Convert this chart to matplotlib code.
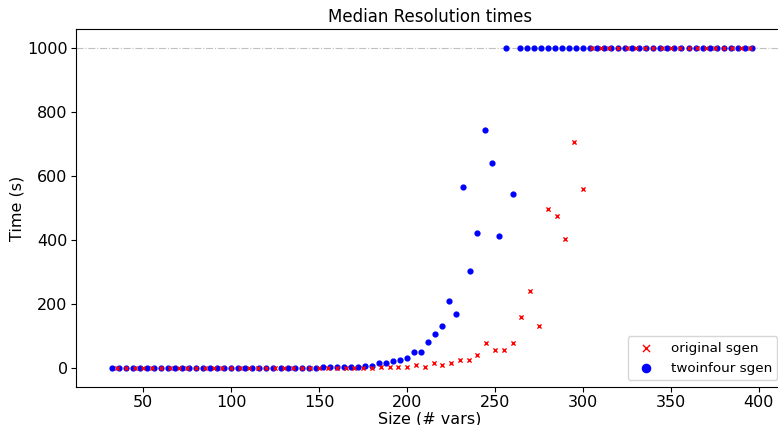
import matplotlib
matplotlib.use("Agg")
import matplotlib.pyplot as plt

# sizes (# vars)
sizes_orig = list(range(35, 396, 5))
sizes_two = list(range(32, 397, 4))

# median times (s); 1000 = timeout
times_orig = [0.5, 0.5, 0.5, 0.5, 0.5, 0.5, 0.5, 0.5, 0.5,        # 35-75
              0.5, 0.5, 0.5, 0.5, 0.5, 0.5, 0.5, 0.5, 0.5, 0.5,   # 80-125
              0.5, 0.5, 0.5, 0.5, 0.5, 1, 1, 1.5, 2, 2,          # 130-175
              2, 3, 3, 3, 5, 9, 5, 15, 9, 15,                     # 180-225
              24, 24, 41, 80, 58, 58, 78, 160, 241, 133,          # 230-275
              497, 476, 403, 708, 560,                            # 280-300
              1000, 1000, 1000, 1000, 1000, 1000, 1000, 1000, 1000, 1000,
              1000, 1000, 1000, 1000, 1000, 1000, 1000, 1000, 1000]  # 305-395
times_two = [0.5, 0.5, 0.5, 0.5, 0.5, 0.5, 0.5, 0.5, 0.5, 0.5,   # 32-68
             0.5, 0.5, 0.5, 0.5, 0.5, 0.5, 0.5, 0.5, 0.5, 0.5,   # 72-108
             0.5, 0.5, 0.5, 0.5, 0.5, 0.5, 1, 1, 1, 1,           # 112-148
             3, 3, 3, 4, 5, 5, 8, 8, 15, 17,                     # 152-188
             23, 27, 32, 51, 52, 82, 106, 131, 211, 169,         # 192-228
             566, 304, 423, 745, 640, 414, 1000, 545,            # 232-260
             1000, 1000, 1000, 1000, 1000, 1000, 1000, 1000, 1000, 1000,
             1000, 1000, 1000, 1000, 1000, 1000, 1000, 1000, 1000, 1000,
             1000, 1000, 1000, 1000, 1000, 1000, 1000, 1000, 1000, 1000,
             1000, 1000, 1000, 1000]                              # 264-396

fig = plt.figure(figsize=(7.78, 4.25), dpi=100)
ax = fig.add_axes([76/778, 1-386.7/425, (784-76)/778, (386.7-29.3)/425])

ax.axhline(1000, color='#c0c0c0', linestyle='-.', linewidth=0.8, zorder=1)
ax.scatter(sizes_orig, times_orig, marker='x', color='red', s=9, linewidths=1,
           label='original sgen', zorder=3)
ax.scatter(sizes_two, times_two, marker='o', color='blue', s=12,
           label='twoinfour sgen', zorder=2)

ax.set_xlim(11.7, 414.3)
ax.set_ylim(-58, 1059)
ax.set_xticks([50, 100, 150, 200, 250, 300, 350, 400])
ax.set_yticks([0, 200, 400, 600, 800, 1000])
ax.tick_params(labelsize=11.5, pad=2.5)
ax.set_xlabel('Size (# vars)', fontsize=11.5, labelpad=1)
ax.set_ylabel('Time (s)', fontsize=11.5, labelpad=2)
ax.set_title('Median Resolution times', fontsize=12, pad=5)
ax.legend(loc='lower right', fontsize=9.7, markerscale=1.7)

fig.savefig('out.png', dpi=100)
